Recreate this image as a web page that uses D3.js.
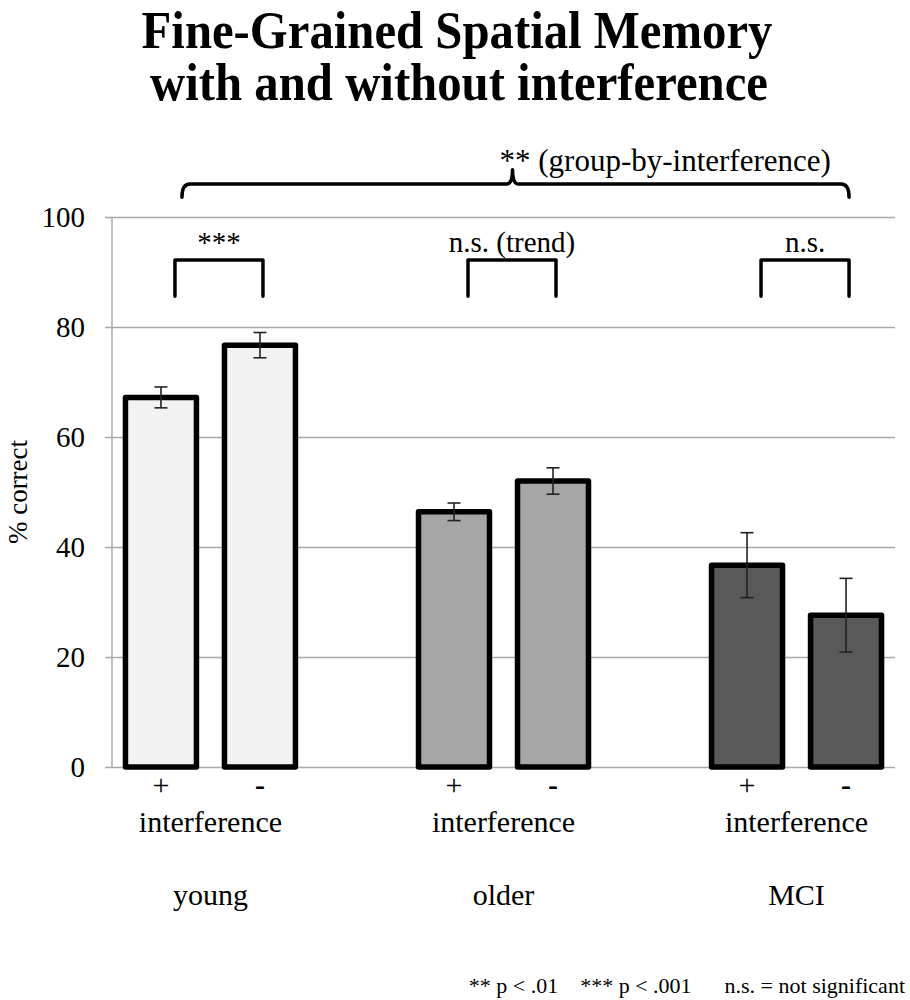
<!DOCTYPE html>
<html>
<head>
<meta charset="utf-8">
<script src="https://cdn.jsdelivr.net/npm/d3@7"></script>
<style>
  body { margin: 0; background: #fff; }
  svg { display: block; font-family: "Liberation Serif", "Times New Roman", serif; }
</style>
</head>
<body>
<svg width="910" height="1000"></svg>
<script>
// data
const groups = ["young", "older", "MCI"];
const conditions = ["+", "-"];
const youngMeans = [67.2, 76.7];
const olderMeans = [46.4, 52.0];
const mciMeans = [36.7, 27.6];
const youngErr = [1.9, 2.3];
const olderErr = [1.6, 2.4];
const mciErr = [5.9, 6.7];
const groupFills = ["#f2f2f2", "#a6a6a6", "#595959"];
const yTicks = [0, 20, 40, 60, 80, 100];
const pairLabels = ["***", "n.s. (trend)", "n.s."];
const overallLabel = "** (group-by-interference)";

const means = [youngMeans, olderMeans, mciMeans];
const errs = [youngErr, olderErr, mciErr];
const bars = [];
groups.forEach((g, i) => conditions.forEach((c, j) => {
    bars.push({group: g, cond: c, value: means[i][j], err: errs[i][j], fill: groupFills[i]});
}));

const svg = d3.select("svg");
const left = 112, right = 895;

const x0 = d3.scalePoint().domain(groups).range([left, right]).padding(0.336);
const x1 = d3.scaleBand().domain(conditions).range([-85, 85]).paddingInner(0.283);
const y = d3.scaleLinear().domain([0, 100]).range([767, 217]);
const barX = d => x0(d.group) + x1(d.cond);
const barMid = (g, c) => x0(g) + x1(c) + x1.bandwidth() / 2;

// title
const title = svg.append("g").attr("font-weight", "bold").attr("font-size", 53).attr("text-anchor", "middle");
title.append("text").attr("transform", "translate(457,48) scale(0.92,1)").text("Fine-Grained Spatial Memory");
title.append("text").attr("transform", "translate(459,100) scale(0.92,1)").text("with and without interference");

// gridlines + ticks
svg.append("g")
    .attr("transform", `translate(${left},0)`)
    .call(d3.axisLeft(y).tickValues(yTicks).tickSize(-(right - left)).tickPadding(27))
    .call(g => g.select(".domain").remove())
    .call(g => g.selectAll(".tick line").attr("stroke", "#a8a8a8").attr("stroke-width", 1.5).attr("x1", -7))
    .call(g => g.selectAll(".tick text").attr("font-size", 29).attr("fill", "#000")
        .attr("font-family", "Liberation Serif"));

svg.append("line")
    .attr("x1", left).attr("x2", left).attr("y1", y(100)).attr("y2", y(0))
    .attr("stroke", "#a8a8a8").attr("stroke-width", 1.5);

svg.append("text")
    .attr("transform", `translate(27,${(y(0) + y(100)) / 2}) rotate(-90)`)
    .attr("text-anchor", "middle")
    .attr("font-size", 27)
    .text("% correct");

// bars
svg.append("g").selectAll("rect")
    .data(bars).join("rect")
    .attr("x", barX)
    .attr("y", d => y(d.value))
    .attr("width", x1.bandwidth())
    .attr("height", d => y(0) - y(d.value))
    .attr("fill", d => d.fill)
    .attr("stroke", "#000")
    .attr("stroke-width", 5.5)
    .attr("stroke-linejoin", "round");

// error bars
const eb = svg.append("g").attr("stroke", "#222").attr("stroke-width", 1.6);
bars.forEach(d => {
    const cx = barX(d) + x1.bandwidth() / 2;
    eb.append("line").attr("x1", cx).attr("x2", cx).attr("y1", y(d.value + d.err)).attr("y2", y(d.value - d.err));
    [d.value + d.err, d.value - d.err].forEach(v => {
        eb.append("line").attr("x1", cx - 6.5).attr("x2", cx + 6.5).attr("y1", y(v)).attr("y2", y(v));
    });
});

// x labels
const xl = svg.append("g").attr("text-anchor", "middle").attr("font-size", 30);
bars.forEach(d => {
    xl.append("text").attr("x", barX(d) + x1.bandwidth() / 2).attr("y", 795)
        .attr("font-weight", d.cond === "-" ? "bold" : null)
        .text(d.cond);
});
groups.forEach(g => {
    xl.append("text").attr("x", x0(g)).attr("y", 832).text("interference");
    xl.append("text").attr("x", x0(g)).attr("y", 905).text(g);
});

// significance brackets
const br = svg.append("g").attr("fill", "none").attr("stroke", "#000").attr("stroke-width", 3.5)
    .attr("stroke-linejoin", "round").attr("stroke-linecap", "round");
const bTop = y(92.2), bBot = y(85.6);
groups.forEach((g, i) => {
    const a = barMid(g, "+") + 14, b = barMid(g, "-") + 3;
    br.append("path").attr("d", `M${a},${bBot} V${bTop} H${b} V${bBot}`);
    svg.append("text").attr("x", (a + b) / 2).attr("y", bTop - 8)
        .attr("text-anchor", "middle").attr("font-size", 29).text(pairLabels[i]);
});

const bl = barMid("young", "+") + 21, brr = barMid("MCI", "-") + 3;
const bm = x0("older") + 9;
const hy = y(106), ey = y(103.6), ty = y(108.6);
br.append("path").attr("d",
    `M${bl},${ey} Q${bl},${hy} ${bl + 8},${hy} H${bm - 6} Q${bm},${hy} ${bm},${ty} ` +
    `Q${bm},${hy} ${bm + 6},${hy} H${brr - 8} Q${brr},${hy} ${brr},${ey}`);
svg.append("text").attr("x", bm - 13).attr("y", ty + 1)
    .attr("font-size", 31).text(overallLabel);

// footnote
svg.append("text").attr("x", 905).attr("y", 993).attr("text-anchor", "end")
    .attr("font-size", 22).attr("xml:space", "preserve")
    .text("** p < .01    *** p < .001      n.s. = not significant");
</script>
</body>
</html>
